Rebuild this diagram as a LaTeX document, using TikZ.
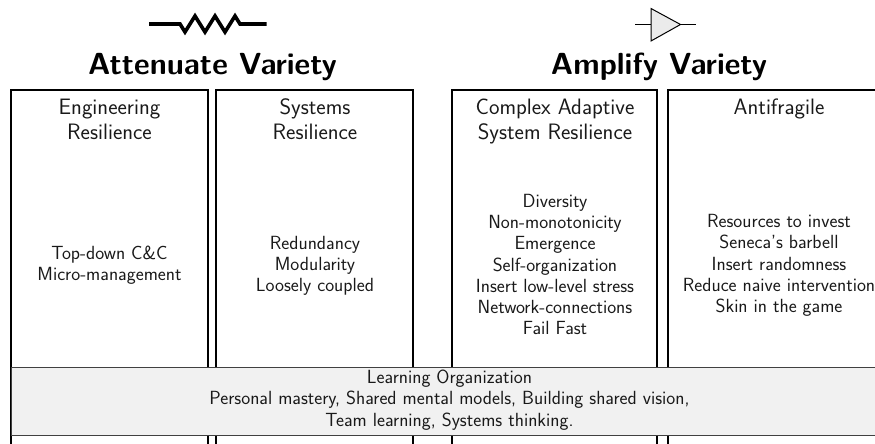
\documentclass[tikz,border=0pt]{standalone}
\usetikzlibrary{positioning}
\renewcommand{\familydefault}{\sfdefault}
\tikzset{x=1pt,y=-1pt,
  col/.style={draw=black,line width=1.4pt},
  bodytext/.style={align=center,font=\fontsize{19.05}{21.2}\selectfont,inner sep=0pt,text=black!90},
  headtext/.style={align=center,font=\fontsize{22.3}{25}\selectfont,inner sep=0pt,text=black!90},
  titletext/.style={font=\fontsize{30.5}{34}\selectfont\bfseries,inner sep=0pt},
  band/.style={draw=black!75,line width=1pt,fill=black!5.5},
  wire/.style={draw=black,line cap=butt}}
\begin{document}
\begin{tikzpicture}
\useasboundingbox (0,0) rectangle (875,444);
% columns
\draw[col] (11,450) -- (11,90) -- (208,90) -- (208,450);
\draw[col] (216,450) -- (216,90) -- (413,90) -- (413,450);
\draw[col] (452,450) -- (452,90) -- (657,90) -- (657,450);
\draw[col] (668,450) -- (668,90) -- (880,90);
% band
\node[band,minimum width=880pt,minimum height=68.5pt,anchor=north west,inner sep=0pt] (bandbox) at (11,366.5) {};
\node[bodytext] (bandtext) at (449.5,400) {Learning Organization\\Personal mastery, Shared mental models, Building shared vision,\\Team learning, Systems thinking.};
% titles
\node[titletext] (att) at (212.5,67) {Attenuate Variety};
\node[titletext] (amp) at (659,67) {Amplify Variety};
% column heads
\node[headtext] (h1) at (109.5,119.5) {Engineering\\Resilience};
\node[headtext] (h2) at (315,119.5) {Systems\\Resilience};
\node[headtext] (h3) at (555,121.5) {Complex Adaptive\\System Resilience};
\node[headtext] (h4) at (779,108.5) {Antifragile};
% column bodies
\node[bodytext] (b1) at (109.5,265.5) {Top-down C\&C\\Micro-management};
\node[bodytext] (b2) at (315,266) {Redundancy\\Modularity\\Loosely coupled};
\node[bodytext] (b3) at (555,264.5) {Diversity\\Non-monotonicity\\Emergence\\Self-organization\\Insert low-level stress\\Network-connections\\Fail Fast};
\node[bodytext] (b4) at (779,265.5) {Resources to invest\\Seneca's barbell\\Insert randomness\\Reduce naive intervention\\Skin in the game};
% resistor icon
\draw[wire,line width=3.6pt,line join=miter] (149,24) -- (180,24) -- (185,32) -- (195,16) -- (205,32) -- (215,16) -- (225,32) -- (235,16) -- (240,24) -- (266.5,24);
% amplifier icon
\draw[wire,line width=1pt] (635,24.5) -- (651,24.5);
\draw[wire,line width=1pt] (680,24.5) -- (696,24.5);
\draw[line width=1pt,fill=black!8,line join=miter] (651,8.5) -- (680.5,24.5) -- (651,41) -- cycle;
\end{tikzpicture}
\end{document}
